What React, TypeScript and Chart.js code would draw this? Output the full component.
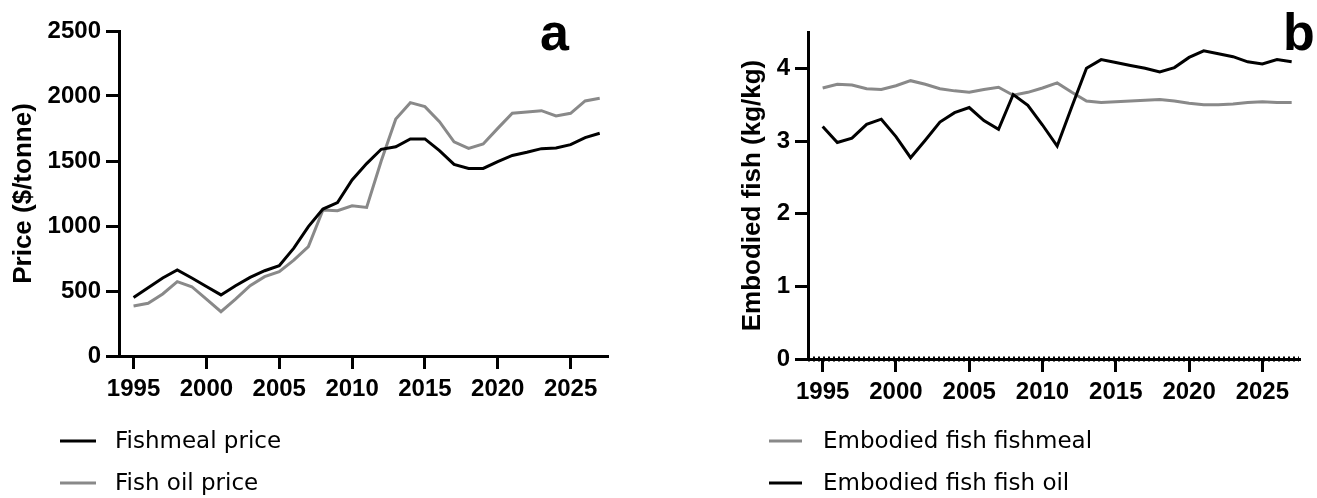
import React, { useEffect, useRef } from "react";
import { Chart, registerables } from "chart.js";

Chart.register(...registerables);

const YEARS = [
  1995, 1996, 1997, 1998, 1999, 2000, 2001, 2002, 2003, 2004, 2005,
  2006, 2007, 2008, 2009, 2010, 2011, 2012, 2013, 2014, 2015, 2016,
  2017, 2018, 2019, 2020, 2021, 2022, 2023, 2024, 2025, 2026, 2027,
];

const FISHMEAL_PRICE = [
  450, 525, 600, 662, 600, 535, 470, 540, 605, 656, 695,
  830, 995, 1130, 1180, 1354, 1480, 1590, 1610, 1670, 1670, 1580,
  1474, 1443, 1443, 1495, 1543, 1567, 1595, 1600, 1626, 1680, 1713,
];

const FISH_OIL_PRICE = [
  385, 405, 477, 572, 533, 438, 341, 438, 541, 610, 649,
  738, 841, 1123, 1118, 1156, 1143, 1500, 1823, 1949, 1918, 1802,
  1648, 1597, 1631, 1751, 1867, 1877, 1887, 1846, 1867, 1962, 1982,
];

const EMBODIED_FISHMEAL = [
  3.73, 3.78, 3.77, 3.72, 3.71, 3.76, 3.83, 3.78, 3.72, 3.69, 3.67,
  3.71, 3.74, 3.63, 3.67, 3.73, 3.8, 3.67, 3.55, 3.53, 3.54, 3.55,
  3.56, 3.57, 3.55, 3.52, 3.5, 3.5, 3.51, 3.53, 3.54, 3.53, 3.53,
];

const EMBODIED_FISH_OIL = [
  3.2, 2.98, 3.04, 3.23, 3.3, 3.06, 2.77, 3.01, 3.26, 3.39, 3.46,
  3.28, 3.16, 3.64, 3.49, 3.22, 2.93, 3.47, 4.0, 4.12, 4.08, 4.04,
  4.0, 3.95, 4.01, 4.15, 4.24, 4.2, 4.16, 4.09, 4.06, 4.12, 4.09,
];

const ZERO_REF_X = [1994, 2027.5];
const ZERO_REF_Y = [0, 0];

const YEAR_TICKS = [1995, 2000, 2005, 2010, 2015, 2020, 2025];
const PRICE_TICKS = [0, 500, 1000, 1500, 2000, 2500];
const EMBODIED_TICKS = [0, 1, 2, 3, 4];

const BLACK = "#000000";
const GREY = "#898989";
const TICK_FONT = "'Liberation Sans', Arial, Helvetica, sans-serif";
const LEGEND_FONT = "'DejaVu Sans', Verdana, sans-serif";

const pts = (xs: number[], ys: number[]) => xs.map((x, i) => ({ x, y: ys[i] }));

type LegendItem = { label: string; color: string };

type PanelProps = {
  left: number;
  width: number;
  padLeft: number;
  padRight: number;
  padTop: number;
  padBottom: number;
  yAxisWidth: number;
  xAxisHeight: number;
  yTitle: string;
  yMin: number;
  yMax: number;
  yTicks: number[];
  datasets: any[];
  letter: string;
  letterX: number;
  legend: LegendItem[];
  legendLineX0: number;
  legendLineX1: number;
  legendTextX: number;
};

const HEIGHT = 498;

function Panel(p: PanelProps) {
  const ref = useRef<HTMLCanvasElement | null>(null);

  useEffect(() => {
    if (!ref.current) return;
    const overlay = {
      id: "overlay",
      afterDraw(chart: any) {
        const ctx = chart.ctx as CanvasRenderingContext2D;
        ctx.save();
        ctx.fillStyle = BLACK;
        ctx.font = `bold 52px ${TICK_FONT}`;
        ctx.textAlign = "left";
        ctx.textBaseline = "alphabetic";
        ctx.fillText(p.letter, p.letterX, 50);

        ctx.font = `23px ${LEGEND_FONT}`;
        ctx.textBaseline = "middle";
        const rows = [441, 483];
        p.legend.forEach((it, i) => {
          const y = rows[i];
          ctx.strokeStyle = it.color;
          ctx.lineWidth = 3;
          ctx.beginPath();
          ctx.moveTo(p.legendLineX0, y);
          ctx.lineTo(p.legendLineX1, y);
          ctx.stroke();
          ctx.fillStyle = BLACK;
          ctx.fillText(it.label, p.legendTextX, y + 1);
        });
        ctx.restore();
      },
    };

    const tickFont = { family: TICK_FONT, size: 24, weight: "bold" };
    const gridOpts = {
      drawOnChartArea: false,
      drawTicks: true,
      tickLength: 13,
      tickWidth: 3,
      tickColor: BLACK,
      color: BLACK,
      lineWidth: 3,
    };

    const chart = new Chart(ref.current, {
      type: "line",
      data: { datasets: p.datasets },
      options: {
        animation: false,
        responsive: false,
        events: [],
        layout: {
          padding: { left: p.padLeft, right: p.padRight, top: p.padTop, bottom: p.padBottom },
        },
        plugins: { legend: { display: false }, tooltip: { enabled: false }, title: { display: false } },
        elements: { point: { radius: 0 }, line: { tension: 0 } },
        scales: {
          x: {
            type: "linear",
            min: 1994,
            max: 2027.5,
            afterBuildTicks: (s: any) => {
              s.ticks = YEAR_TICKS.map((v) => ({ value: v }));
            },
            afterFit: (s: any) => {
              s.height = p.xAxisHeight;
            },
            ticks: {
              callback: (v: any) => String(v),
              color: BLACK,
              font: tickFont,
              padding: 6,
              maxRotation: 0,
              autoSkip: false,
            },
            grid: gridOpts,
            border: { display: true, color: BLACK, width: 3 },
          },
          y: {
            type: "linear",
            min: p.yMin,
            max: p.yMax,
            afterBuildTicks: (s: any) => {
              s.ticks = p.yTicks.map((v) => ({ value: v }));
            },
            afterFit: (s: any) => {
              s.width = p.yAxisWidth;
            },
            ticks: {
              callback: (v: any) => String(v),
              color: BLACK,
              font: tickFont,
              padding: 5,
              autoSkip: false,
            },
            grid: gridOpts,
            border: { display: true, color: BLACK, width: 3 },
            title: {
              display: true,
              text: p.yTitle,
              color: BLACK,
              font: { family: TICK_FONT, size: 26, weight: "bold" },
              padding: { top: 8, bottom: 0 },
            },
          },
        },
      },
      plugins: [overlay],
    } as any);
    return () => chart.destroy();
  }, []);

  return (
    <div style={{ position: "absolute", left: p.left, top: 0, width: p.width, height: HEIGHT }}>
      <canvas ref={ref} width={p.width} height={HEIGHT} style={{ width: p.width, height: HEIGHT, display: "block" }} />
    </div>
  );
}

export default function App() {
  const lineDs = (label: string, data: number[], color: string) => ({
    label,
    data: pts(YEARS, data),
    borderColor: color,
    backgroundColor: color,
    borderWidth: 3,
    pointRadius: 0,
    fill: false,
  });

  const panelA: PanelProps = {
    left: 0,
    width: 660,
    padLeft: 0,
    padRight: 53,
    padTop: 31,
    padBottom: 82,
    yAxisWidth: 119,
    xAxisHeight: 60,
    yTitle: "Price ($/tonne)",
    yMin: 0,
    yMax: 2500,
    yTicks: PRICE_TICKS,
    datasets: [
      lineDs("Fishmeal price", FISHMEAL_PRICE, BLACK),
      lineDs("Fish oil price", FISH_OIL_PRICE, GREY),
    ],
    letter: "a",
    letterX: 540,
    legend: [
      { label: "Fishmeal price", color: BLACK },
      { label: "Fish oil price", color: GREY },
    ],
    legendLineX0: 60,
    legendLineX1: 96,
    legendTextX: 115,
  };

  const panelB: PanelProps = {
    left: 660,
    width: 657,
    padLeft: 69,
    padRight: 18,
    padTop: 32,
    padBottom: 79,
    yAxisWidth: 79,
    xAxisHeight: 60,
    yTitle: "Embodied fish (kg/kg)",
    yMin: 0,
    yMax: 4.5,
    yTicks: EMBODIED_TICKS,
    datasets: [
      {
        label: "zero",
        data: pts(ZERO_REF_X, ZERO_REF_Y),
        borderColor: BLACK,
        borderWidth: 5,
        borderDash: [2, 3],
        pointRadius: 0,
        clip: false,
      },
      lineDs("Embodied fish fish oil", EMBODIED_FISH_OIL, BLACK),
      lineDs("Embodied fish fishmeal", EMBODIED_FISHMEAL, GREY),
    ],
    letter: "b",
    letterX: 623,
    legend: [
      { label: "Embodied fish fishmeal", color: GREY },
      { label: "Embodied fish fish oil", color: BLACK },
    ],
    legendLineX0: 109,
    legendLineX1: 142,
    legendTextX: 163,
  };

  return (
    <div style={{ position: "absolute", left: 0, top: 0, width: 1317, height: HEIGHT, background: "#fff" }}>
      <Panel {...panelA} />
      <Panel {...panelB} />
    </div>
  );
}
